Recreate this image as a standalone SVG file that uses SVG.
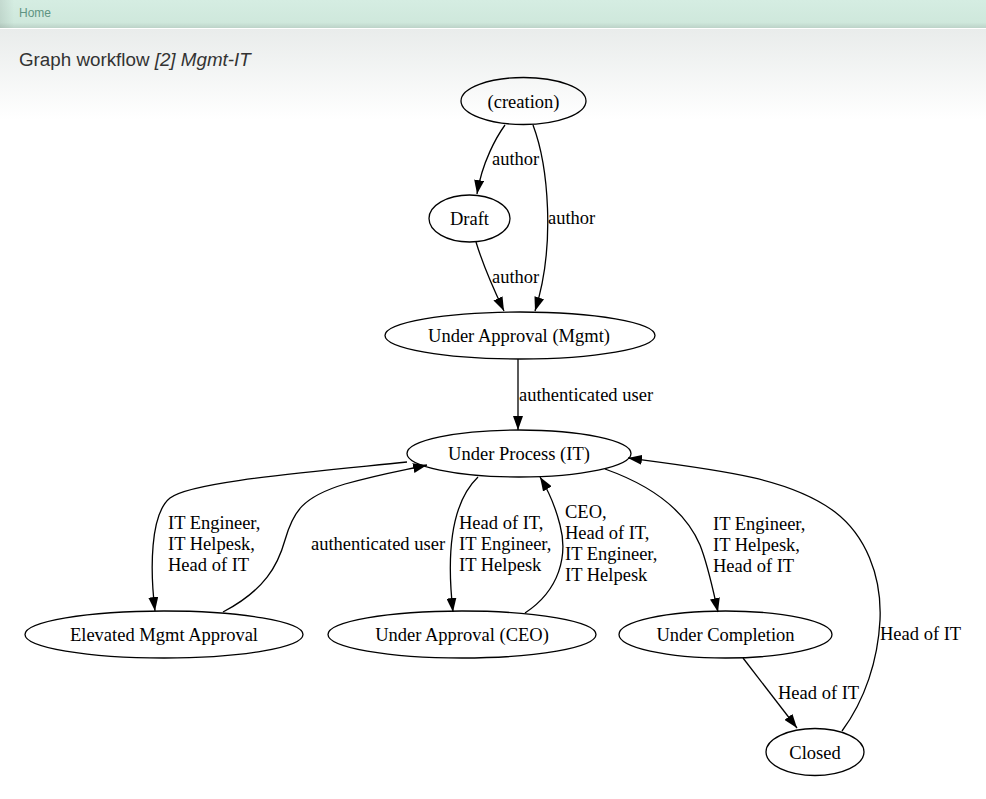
<svg xmlns="http://www.w3.org/2000/svg" width="986" height="799" viewBox="0 0 986 799">
<defs>
<linearGradient id="hdr" x1="0" y1="0" x2="0" y2="1">
<stop offset="0" stop-color="#d5ede2"/>
<stop offset="0.8" stop-color="#cfe8dc"/>
<stop offset="1" stop-color="#bcd3c8"/>
</linearGradient>
<linearGradient id="hdrL" x1="0" y1="0" x2="1" y2="0">
<stop offset="0" stop-color="#000" stop-opacity="0.08"/>
<stop offset="1" stop-color="#000" stop-opacity="0"/>
</linearGradient>
<linearGradient id="body" x1="0" y1="0" x2="0" y2="1">
<stop offset="0" stop-color="#e9eceb"/>
<stop offset="1" stop-color="#ffffff"/>
</linearGradient>
<marker id="arr" viewBox="0 0 14 10" refX="14" refY="5" markerWidth="14" markerHeight="10" markerUnits="userSpaceOnUse" orient="auto">
<path d="M0,0 L14,5 L0,10 z" fill="#000"/>
</marker>
<style>
.n ellipse{fill:none;stroke:#000;stroke-width:1.3}
.t{font-family:"Liberation Serif","Times New Roman",serif;font-size:18.5px;fill:#000}
.m{text-anchor:middle}
.e path{fill:none;stroke:#000;stroke-width:1.3;marker-end:url(#arr)}
</style>
</defs>
<rect x="0" y="0" width="986" height="799" fill="#fff"/>
<rect x="0" y="29" width="986" height="91" fill="url(#body)"/>
<rect x="0" y="0" width="986" height="28" fill="url(#hdr)"/>
<rect x="0" y="0" width="14" height="28" fill="url(#hdrL)"/>
<rect x="0" y="28" width="986" height="1" fill="#fff"/>
<text x="19" y="17" font-family="'Liberation Sans',Arial,sans-serif" font-size="12" fill="#5f9482">Home</text>
<text x="19" y="66" font-family="'Liberation Sans',Arial,sans-serif" font-size="18.8" fill="#333">Graph workflow <tspan font-style="italic">[2] Mgmt-IT</tspan></text>

<g id="connectors" class="e">
<path d="M505,125 C497,136 482,162 477,194"/>
<path d="M533,125 C548,165 556,245 535,311"/>
<path d="M476,242 C483,265 494,290 504,311"/>
<path d="M518,359 L518,430"/>
<path d="M407,462 C300,473 190,482 170,498 C150,514 150,570 155,611"/>
<path d="M223,612 C265,590 278,565 285,540 C293,512 302,497 345,484 C380,474 405,470 427,465"/>
<path d="M478,477 C452,502 446,550 453,612"/>
<path d="M525,613 C560,590 568,555 560,525 C555,505 548,490 540,477"/>
<path d="M605,469 C650,485 685,510 700,545 C708,565 713,590 718,612"/>
<path d="M842,731 C865,700 878,660 880,620 C882,575 865,535 835,512 C790,478 720,470 628,458"/>
<path d="M743,658 L797,728"/>
</g>
<g id="edge-labels" class="t">
<text x="492" y="165">author</text>
<text x="548" y="224">author</text>
<text x="492" y="283">author</text>
<text x="519" y="401">authenticated user</text>
<text x="168" y="529">IT Engineer,<tspan x="168" dy="21">IT Helpesk,</tspan><tspan x="168" dy="21">Head of IT</tspan></text>
<text x="311" y="550">authenticated user</text>
<text x="459" y="529">Head of IT,<tspan x="459" dy="21">IT Engineer,</tspan><tspan x="459" dy="21">IT Helpesk</tspan></text>
<text x="565" y="518">CEO,<tspan x="565" dy="21">Head of IT,</tspan><tspan x="565" dy="21">IT Engineer,</tspan><tspan x="565" dy="21">IT Helpesk</tspan></text>
<text x="713" y="530">IT Engineer,<tspan x="713" dy="21">IT Helpesk,</tspan><tspan x="713" dy="21">Head of IT</tspan></text>
<text x="880" y="640">Head of IT</text>
<text x="778" y="699">Head of IT</text>
</g>

<g id="creation" class="n"><ellipse cx="523.5" cy="101" rx="62.5" ry="23.5"/><text class="t m" x="523.5" y="107.5">(creation)</text></g>
<g id="draft" class="n"><ellipse cx="469.5" cy="218.5" rx="40.5" ry="23.5"/><text class="t m" x="469.5" y="225">Draft</text></g>
<g id="under-approval-mgmt" class="n"><ellipse cx="520" cy="335.5" rx="135" ry="23.5"/><text class="t m" x="519" y="342">Under Approval (Mgmt)</text></g>
<g id="under-process-it" class="n"><ellipse cx="519" cy="453.5" rx="112" ry="23.5"/><text class="t m" x="519" y="460">Under Process (IT)</text></g>
<g id="elevated-mgmt-approval" class="n"><ellipse cx="164" cy="634.5" rx="139" ry="23.5"/><text class="t m" x="164" y="641">Elevated Mgmt Approval</text></g>
<g id="under-approval-ceo" class="n"><ellipse cx="462" cy="634.5" rx="134" ry="23.5"/><text class="t m" x="462" y="641">Under Approval (CEO)</text></g>
<g id="under-completion" class="n"><ellipse cx="725.5" cy="634.5" rx="106.5" ry="23.5"/><text class="t m" x="725.5" y="641">Under Completion</text></g>
<g id="closed" class="n"><ellipse cx="815" cy="752" rx="49" ry="23.5"/><text class="t m" x="815" y="758.5">Closed</text></g>
</svg>
